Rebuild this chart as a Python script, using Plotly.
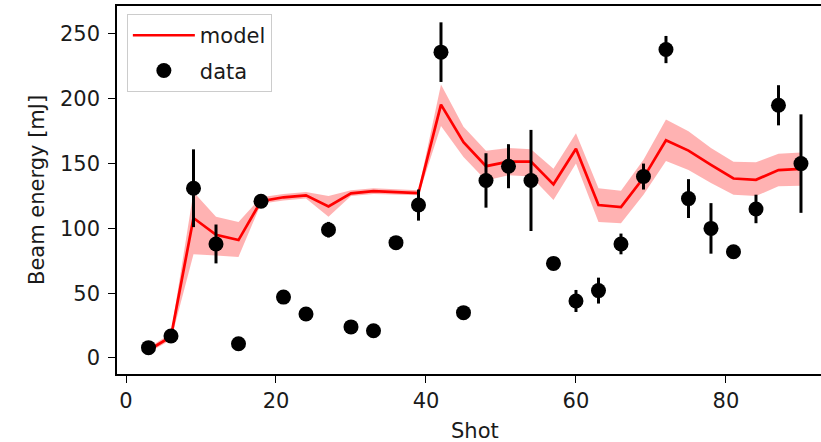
import plotly.graph_objects as go

shots = [3, 6, 9, 12, 15, 18, 21, 24, 27, 30, 33, 36, 39, 42, 45,
         48, 51, 54, 57, 60, 63, 66, 69, 72, 75, 78, 81, 84, 87, 90]
data_energy = [8, 17, 131, 88, 11, 121, 47, 34, 99, 24, 21, 89, 118, 236, 35,
               137, 148, 137, 73, 44, 52, 88, 140, 238, 123, 100, 82, 115, 195, 150]
data_err = [2, 2, 30, 15, 1, 2, 5, 5, 6, 1, 3, 1, 12, 23, 1,
            21, 17, 39, 1, 8.5, 10, 8, 10, 10.5, 15, 19.5, 1, 11, 15.5, 38]
model_energy = [6, 16.5, 108, 95, 91, 121, 124, 125.5, 117, 127, 128.7, 128, 127.3, 195.5, 166.5,
                148, 151.5, 151.5, 134, 161.5, 118, 116.5, 139, 168, 160, 149, 138.5, 137.5, 145, 146]
model_low = [4, 14, 80, 79, 78, 119, 121.5, 123, 109, 125, 126.5, 126, 125.5, 179, 155,
             137, 141, 140, 122, 150, 105, 104, 126, 152, 145, 135, 126, 125, 132.5, 133]
model_high = [8, 19, 128, 109, 105, 124, 126.5, 128, 125, 129.5, 131, 130, 129.5, 211, 178.5,
              160, 162, 161, 146, 173.5, 131, 129, 153, 184, 175, 162, 151.5, 151, 157.5, 158.5]

xticks = [0, 20, 40, 60, 80]
yticks = [0, 50, 100, 150, 200, 250]

FONT = "DejaVu Sans"
TXT = "#1a1a1a"

fig = go.Figure()

# uncertainty band
fig.add_trace(go.Scatter(
    x=shots + shots[::-1],
    y=model_high + model_low[::-1],
    fill="toself",
    fillcolor="rgba(255,0,0,0.3)",
    line=dict(width=0),
    mode="lines",
    hoverinfo="skip",
    showlegend=False,
))

fig.add_trace(go.Scatter(
    x=shots, y=model_energy, mode="lines", name="model", legendgroup="m",
    line=dict(color="#ff0000", width=2.7),
))

fig.add_trace(go.Scatter(
    x=shots, y=data_energy, mode="markers", name="data", legendgroup="d",
    marker=dict(color="black", size=15),
    error_y=dict(type="data", array=data_err, color="black", thickness=3, width=0),
))

fig.update_layout(
    width=821, height=442,
    margin=dict(l=117, r=0, t=6, b=68),
    plot_bgcolor="white", paper_bgcolor="white",
    font=dict(family=FONT, size=21, color=TXT),
    showlegend=True,
    legend=dict(
        x=0.014, y=0.978, xanchor="left", yanchor="top",
        bgcolor="rgba(255,255,255,0.8)", bordercolor="#cccccc", borderwidth=1,
        font=dict(family=FONT, size=21, color=TXT),
        itemwidth=62, tracegroupgap=5,
    ),
    xaxis=dict(
        range=[-1.2, 92.67], tickvals=xticks, ticks="outside", ticklen=7, tickwidth=1.3,
        tickcolor="black", showline=True, linecolor="black", linewidth=1.5, mirror=True,
        showgrid=False, zeroline=False, tickfont=dict(family=FONT, size=21, color=TXT),
    ),
    yaxis=dict(
        range=[-12.35, 271.6], tickvals=yticks, ticks="outside", ticklen=7, tickwidth=1.3,
        tickcolor="black", showline=True, linecolor="black", linewidth=1.5, mirror=False,
        showgrid=False, zeroline=False, tickfont=dict(family=FONT, size=21, color=TXT),
        ticklabelstandoff=4,
    ),
    annotations=[
        dict(text="Shot", x=(475 - 117) / 704, y=-(431 - 374) / 368, xref="paper", yref="paper",
             xanchor="center", yanchor="middle", showarrow=False,
             font=dict(family=FONT, size=21, color=TXT)),
        dict(text="Beam energy [mJ]", x=(37 - 117) / 704, y=0.5, xref="paper", yref="paper",
             xanchor="center", yanchor="middle", textangle=-90, showarrow=False,
             font=dict(family=FONT, size=21, color=TXT)),
    ],
)

fig.write_html("out.html")
